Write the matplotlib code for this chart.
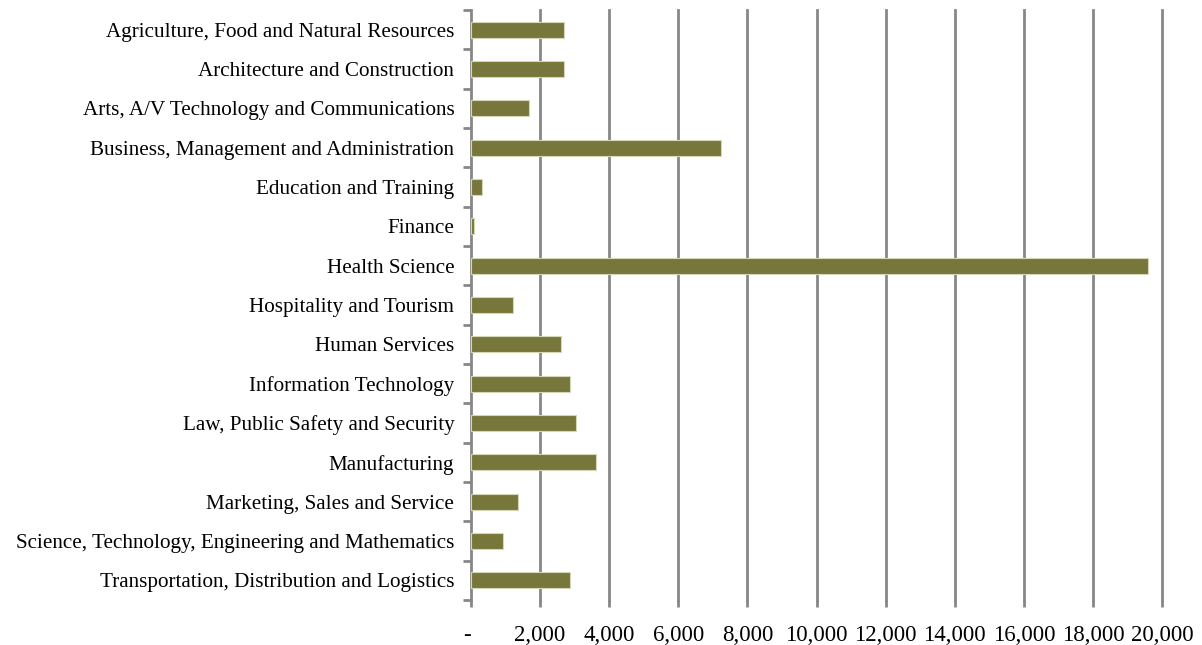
import numpy as np
import matplotlib.pyplot as plt
from matplotlib.ticker import FuncFormatter

# Data
categories = [
    'Agriculture, Food and Natural Resources',
    'Architecture and Construction',
    'Arts, A/V Technology and Communications',
    'Business, Management and Administration',
    'Education and Training',
    'Finance',
    'Health Science',
    'Hospitality and Tourism',
    'Human Services',
    'Information Technology',
    'Law, Public Safety and Security',
    'Manufacturing',
    'Marketing, Sales and Service',
    'Science, Technology, Engineering and Mathematics',
    'Transportation, Distribution and Logistics',
]
values = [2690, 2690, 1690, 7240, 320, 100, 19600, 1230, 2610,
          2865, 3030, 3610, 1360, 935, 2865]

plt.rcParams['font.family'] = ['Liberation Serif', 'DejaVu Serif']

fig = plt.figure(figsize=(12.02, 6.45), dpi=100)
ax = fig.add_axes([471 / 1202, 45 / 645, 691 / 1202, 590 / 645])

y = np.arange(len(categories))
ax.barh(y, values, height=0.4, color='#77773b', edgecolor='#d6d6b8', linewidth=0.8, zorder=3)

ax.set_ylim(len(categories) - 0.5, -0.5)
ax.set_xlim(0, 20000)

xt = np.arange(0, 20001, 2000)
ax.set_xticks(xt)
ax.xaxis.set_major_formatter(FuncFormatter(lambda v, p: '-' if v == 0 else f'{int(v):,}'))
ax.set_yticks(y)
ax.set_yticklabels(categories)
ax.set_yticks(np.arange(len(categories) + 1) - 0.5, minor=True)

for v in xt[1:]:
    ax.axvline(v, color='#878787', linewidth=2, zorder=1, clip_on=False)

for s in ['top', 'right', 'bottom']:
    ax.spines[s].set_visible(False)
ax.spines['left'].set_color('#878787')
ax.spines['left'].set_linewidth(2)

ax.tick_params(axis='y', which='major', length=0, pad=12, labelsize=15.2)
ax.tick_params(axis='y', which='minor', length=6, width=2, color='#878787')
ax.tick_params(axis='x', length=5, width=2, color='#878787', pad=13, labelsize=16.5)

# the zero label sits a little left of the axis in the original
ax.get_xticklabels()[0].set_horizontalalignment('right')

fig.savefig('out.png', dpi=100)
